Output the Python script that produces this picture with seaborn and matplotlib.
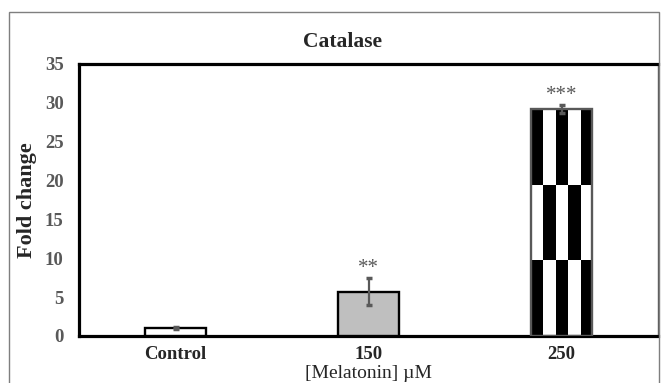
import numpy as np
import pandas as pd
import matplotlib
matplotlib.use("Agg")
import matplotlib.pyplot as plt
from matplotlib.patches import Rectangle
import seaborn as sns

# data
groups = ["Control", "150", "250"]
fold_change = [1.0, 5.7, 29.2]
fold_err = [0.12, 1.75, 0.5]
stars = ["", "**", "***"]
y_ticks = [0, 5, 10, 15, 20, 25, 30, 35]

bar_fill = ["white", "#bfbfbf", "white"]
bar_edge = ["black", "black", "#595959"]
grey = "#595959"

sns.set_style("white")
plt.rcParams["font.family"] = ["Liberation Serif", "DejaVu Serif"]

df = pd.DataFrame({"group": groups, "fold": fold_change})

fig = plt.figure(figsize=(6.62, 3.83), dpi=100)
ax = fig.add_axes([79 / 662, 1 - 336 / 383, 579 / 662, 272 / 383])

sns.barplot(data=df, x="group", y="fold", hue="group", palette=bar_fill,
            order=groups, hue_order=groups, width=0.32, errorbar=None,
            legend=False, ax=ax)

for p, ec in zip(ax.patches, bar_edge):
    p.set_edgecolor(ec)
    p.set_linewidth(1.7)
    p.set_zorder(3)

# checkerboard fill of the last bar
p = ax.patches[2]
x0, w, h = p.get_x(), p.get_width(), p.get_height()
checker = np.array([[1, 0, 1, 0, 1],
                    [0, 1, 0, 1, 0],
                    [1, 0, 1, 0, 1]])
ax.imshow(checker, extent=(x0, x0 + w, 0, h), cmap="gray_r", origin="lower",
          aspect="auto", interpolation="nearest", zorder=2.5)
p.set_facecolor("none")

ax.errorbar(np.arange(len(groups)), fold_change, yerr=fold_err, fmt="none",
            ecolor=grey, elinewidth=1.6, capsize=2.2, capthick=2.5, zorder=4)

for i, s in enumerate(stars):
    if s:
        ax.text(i, fold_change[i] + fold_err[i], s, ha="center",
                va="bottom", color=grey, fontsize=15)

ax.set_xlim(-0.5, 2.5)
ax.set_ylim(0, 35)
ax.set_yticks(y_ticks)
ax.tick_params(axis="y", direction="in", length=5, width=1, color=grey,
               pad=11, labelsize=13.5, labelcolor=grey)
ax.tick_params(axis="x", length=0, pad=7, labelsize=13.5)
for lab in ax.get_yticklabels() + ax.get_xticklabels():
    lab.set_fontweight("bold")

for side in ["left", "bottom", "top"]:
    ax.spines[side].set_linewidth(2.3)
    ax.spines[side].set_color("black")
ax.spines["right"].set_linewidth(1.0)
ax.spines["right"].set_color(grey)

ax.set_xlabel("[Melatonin] \u00b5M", fontsize=14)
ax.xaxis.set_label_coords(0.5, -0.105)
ax.set_ylabel("Fold change", fontsize=16, fontweight="bold")
ax.yaxis.set_label_coords(-0.072, 0.5)

fig.text(342 / 662, 1 - 42 / 383, "Catalase", ha="center", va="center",
         fontsize=15.5, fontweight="bold")

# outer chart border
fig.patches.append(Rectangle((9 / 662, -0.1), 650 / 662, 1.1 - 12 / 383,
                             transform=fig.transFigure, fill=False,
                             edgecolor="#7f7f7f", linewidth=1.0))

fig.savefig("out.png", dpi=100)
